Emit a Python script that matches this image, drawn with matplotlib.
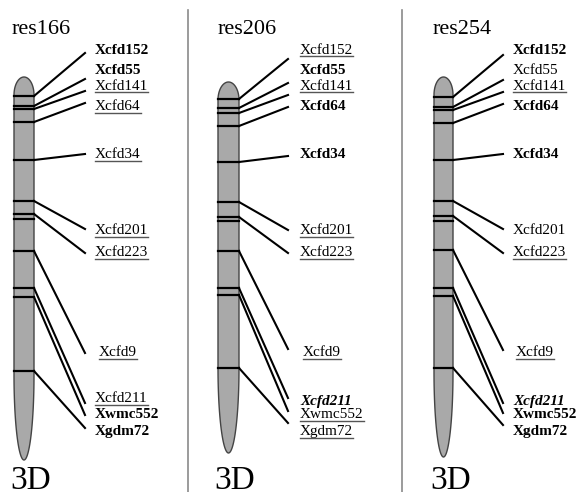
import numpy as np
import matplotlib
matplotlib.use("Agg")
import matplotlib.pyplot as plt
from matplotlib.patches import Polygon

plt.rcParams['font.family'] = ['Liberation Serif', 'DejaVu Serif']

markers = ["Xcfd152", "Xcfd55", "Xcfd141", "Xcfd64", "Xcfd34", "Xcfd201",
           "Xcfd223", "Xcfd9", "Xcfd211", "Xwmc552", "Xgdm72"]
titles = ["res166", "res206", "res254"]

# band positions on each chromosome (same order as markers)
bands_166 = [96, 106, 109, 122, 160, 201, 214, 251, 288, 297, 371]
bands_206 = [99, 108, 113, 126, 162, 202, 217, 251, 288, 295, 368]
bands_254 = [97, 107, 110, 123, 160, 201, 216, 250, 288, 296, 368]
extra_bands = [[219], [221], [221]]

# where each marker's leader line ends
ends_166 = [53, 79, 91, 103, 154, 229, 253, 353, 403, 415, 428]
ends_206 = [59, 83, 95, 107, 156, 230, 253, 349, 398, 411, 423]
ends_254 = [55, 80, 92, 104, 154, 229, 253, 350, 403, 413, 425]

# label centre positions
labels_166 = [50, 71, 86, 107, 155, 231, 253, 353, 399, 415, 431]
labels_206 = [50, 71, 86, 107, 155, 231, 253, 353, 401, 415, 432]
labels_254 = [50, 71, 86, 107, 155, 231, 253, 353, 401, 415, 431]

# b = bold, u = underlined, bi = bold italic, n = plain
styles_166 = ["b", "b", "u", "u", "u", "u", "u", "u", "u", "b", "b"]
styles_206 = ["u", "b", "u", "b", "b", "u", "u", "u", "bi", "u", "u"]
styles_254 = ["b", "n", "u", "b", "b", "n", "u", "u", "bi", "b", "b"]

panels = [
    dict(x0=14, x1=34, top=77, bot=460, lx=85, tx=95, x9=99, title_x=12, d_x=10,
         bands=bands_166, ends=ends_166, labels=labels_166, styles=styles_166),
    dict(x0=218, x1=239, top=82, bot=453, lx=288, tx=300, x9=303, title_x=218, d_x=214,
         bands=bands_206, ends=ends_206, labels=labels_206, styles=styles_206),
    dict(x0=434, x1=453, top=77, bot=457, lx=503, tx=513, x9=516, title_x=433, d_x=430,
         bands=bands_254, ends=ends_254, labels=labels_254, styles=styles_254),
]

fig = plt.figure(figsize=(5.79, 4.92), dpi=100)
ax = fig.add_axes([0, 0, 1, 1])
ax.set_xlim(0, 579)
ax.set_ylim(492, 0)
ax.axis('off')


def chromosome(x0, x1, top, bot):
    cx = (x0 + x1) / 2
    r = (x1 - x0) / 2
    ht, hb = 18, 85
    t = np.linspace(np.pi, 0, 40)
    top_pts = np.column_stack([cx + r * np.cos(t), top + ht - ht * np.sin(t)])
    t2 = np.linspace(0, np.pi, 60)
    bot_pts = np.column_stack([cx + r * np.cos(t2), bot - hb + hb * np.sin(t2)])
    return np.vstack([top_pts, bot_pts])


for sx in [188, 402]:
    ax.plot([sx, sx], [10, 492], color='#8a8a8a', lw=1.2)

texts = []
for i, p in enumerate(panels):
    ax.add_patch(Polygon(chromosome(p['x0'], p['x1'], p['top'], p['bot']),
                         closed=True, facecolor='#a9a9a9', edgecolor='#444444', lw=1))
    ax.text(p['title_x'], 30, titles[i], fontsize=16, va='center', ha='left')
    ax.text(p['d_x'], 481, "3D", fontsize=24, va='center', ha='left')
    for y in p['bands'] + extra_bands[i]:
        ax.plot([p['x0'], p['x1']], [y, y], color='black', lw=1.6)
    for j, name in enumerate(markers):
        ax.plot([p['x1'], p['lx']], [p['bands'][j], p['ends'][j]], color='black', lw=1.5)
        st = p['styles'][j]
        x = p['x9'] if name == "Xcfd9" else p['tx']
        t = ax.text(x, p['labels'][j], name, fontsize=11, va='center', ha='left',
                    fontweight='bold' if 'b' in st else 'normal',
                    fontstyle='italic' if 'i' in st else 'normal')
        if st == 'u':
            texts.append(t)

fig.canvas.draw()
inv = ax.transData.inverted()
for t in texts:
    bb = t.get_window_extent()
    (xa, ya), (xb, yb) = inv.transform([[bb.x0, bb.y0], [bb.x1, bb.y0]])
    ax.plot([xa, xb], [ya - 0.5, yb - 0.5], color='#555555', lw=1)

fig.savefig("out.png", dpi=100)
